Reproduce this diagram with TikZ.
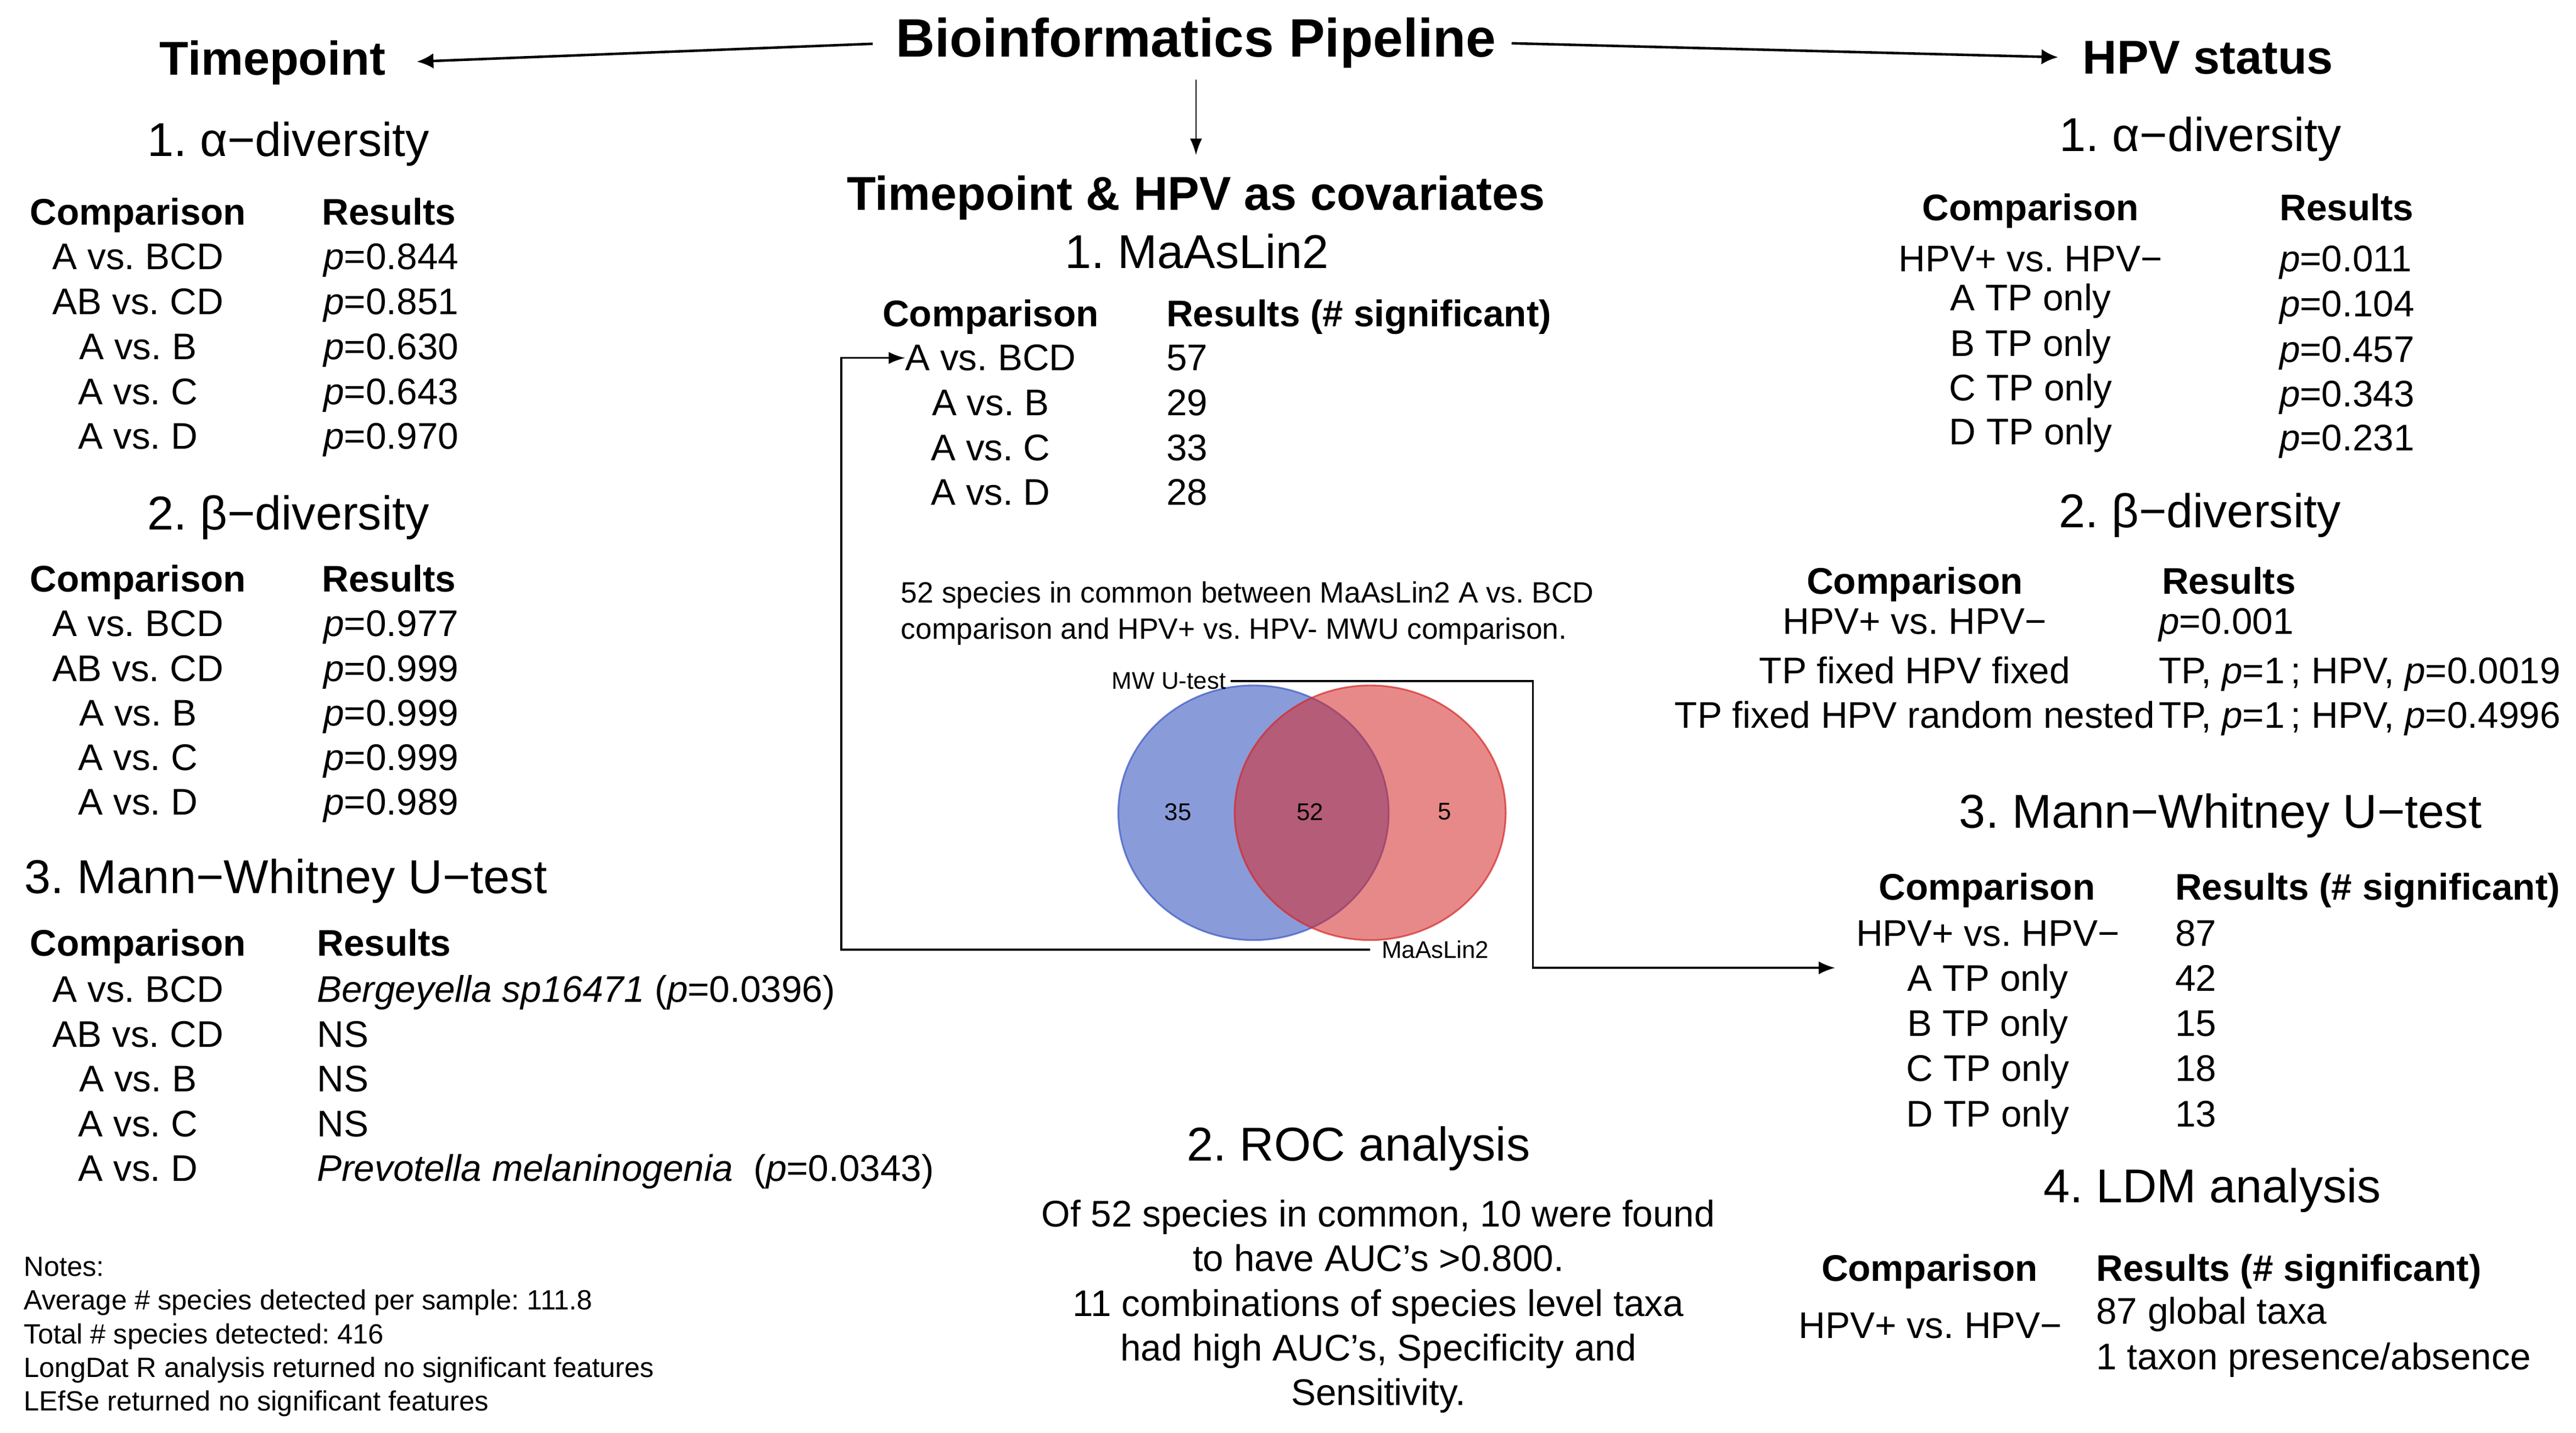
\documentclass[tikz,border=0pt]{standalone}
\usepackage{fontspec}
\setmainfont{Liberation Sans}
\frenchspacing
\usetikzlibrary{arrows.meta,positioning,calc}
\definecolor{vennblue}{RGB}{66,94,196}
\definecolor{vennred}{RGB}{214,40,40}

\begin{document}
\begin{tikzpicture}[x=0.029917cm,y=-0.029917cm,
  every node/.style={inner sep=0pt,outer sep=0pt},
  body/.style={font=\fontsize{19.2}{23}\selectfont},
  bhd/.style={font=\fontsize{19.2}{23}\selectfont\bfseries},
  sec/.style={font=\fontsize{24.6}{29}\selectfont},
  big/.style={font=\fontsize{24.6}{29}\selectfont\bfseries},
  small/.style={font=\fontsize{12.5}{15}\selectfont},
  note/.style={font=\fontsize{14.4}{17}\selectfont},
  pipe/.style={line width=1.3pt,-{Latex[length=0.3cm,width=0.28cm]}},
  link/.style={line width=1pt}]

\useasboundingbox (0,0) rectangle (1568,871.8);

% top row
\node[font=\fontsize{28}{34}\selectfont\bfseries,anchor=base] (title) at (728,34.6) {Bioinformatics Pipeline};
\node[big,anchor=base] (tp) at (166,45.7) {Timepoint};
\node[big,anchor=base] (hpv) at (1344,45) {HPV status};
\node[big,anchor=base] (cov) at (728,128) {Timepoint \& HPV as covariates};
\draw[pipe,shorten <=0.42cm,shorten >=0.57cm] (title.west) -- (tp.east);
\draw[pipe,shorten <=0.28cm,shorten >=0.45cm] (title.east) -- (hpv.west);
\draw[line width=0.8pt,-{Latex[length=0.3cm,width=0.22cm]},shorten <=0.21cm,shorten >=0.38cm] (title.south) -- (cov.north);

% Timepoint
\node[sec,anchor=base] (la) at (175.5,95) {1. α−diversity};
\node[bhd,anchor=base] (lac) at (84,137) {Comparison};
\node[bhd,anchor=base west] (lar) at (196,137) {Results};
\foreach \c/\p [count=\i] in {A vs. BCD/0.844,AB vs. CD/0.851,A vs. B/0.630,A vs. C/0.643,A vs. D/0.970}{
  \node[body,anchor=base] (la\i) at (84,{164+27.35*(\i-1)}) {\c};
  \node[body,anchor=base west] (lap\i) at (197,{164+27.35*(\i-1)}) {\textit{p}=\p};
}

\node[sec,anchor=base] (lb) at (175.5,322.5) {2. β−diversity};
\node[bhd,anchor=base] (lbc) at (84,360) {Comparison};
\node[bhd,anchor=base west] (lbr) at (196,360) {Results};
\foreach \c/\p [count=\i] in {A vs. BCD/0.977,AB vs. CD/0.999,A vs. B/0.999,A vs. C/0.999,A vs. D/0.989}{
  \node[body,anchor=base] (lb\i) at (84,{387.3+27.17*(\i-1)}) {\c};
  \node[body,anchor=base west] (lbp\i) at (197,{387.3+27.17*(\i-1)}) {\textit{p}=\p};
}

\node[sec,anchor=base west] (lm) at (15,543.5) {3. Mann−Whitney U−test};
\node[bhd,anchor=base] (lmc) at (84,581.7) {Comparison};
\node[bhd,anchor=base west] (lmr) at (193,581.7) {Results};
\foreach \c/\p [count=\i] in {{A vs. BCD}/{\textit{Bergeyella sp16471} (\textit{p}=0.0396)},{AB vs. CD}/NS,{A vs. B}/NS,{A vs. C}/NS,{A vs. D}/{\textit{Prevotella melaninogenia}\ \ (\textit{p}=0.0343)}}{
  \node[body,anchor=base] (lm\i) at (84,{610+27.2*(\i-1)}) {\c};
  \node[body,anchor=base west] (lmp\i) at (193,{610+27.2*(\i-1)}) {\p};
}

\foreach \t [count=\i] in {Notes:,Average \# species detected per sample: 111.8,Total \# species detected: 416,LongDat R analysis returned no significant features,LEfSe returned no significant features}
  \node[note,anchor=base west] (note\i) at (14.6,{776.6+20.5*(\i-1)}) {\t};

% covariates
\node[sec,anchor=base] (mh) at (728.5,163.4) {1. MaAsLin2};
\node[bhd,anchor=base] (mc) at (603,198.7) {Comparison};
\node[bhd,anchor=base west] (mr) at (710,198.7) {Results (\# significant)};
\foreach \c/\n [count=\i] in {A vs. BCD/57,A vs. B/29,A vs. C/33,A vs. D/28}{
  \node[body,anchor=base] (m\i) at (603,{225.6+27.3*(\i-1)}) {\c};
  \node[body,anchor=base west] (mn\i) at (710,{225.6+27.3*(\i-1)}) {\n};
}

\node[font=\fontsize{15.2}{18.5}\selectfont,anchor=base west] (cap1) at (548.5,367) {52 species in common between MaAsLin2 A vs. BCD};
\node[font=\fontsize{15.2}{18.5}\selectfont,anchor=base west] (cap2) at (548.5,388.8) {comparison and HPV+ vs. HPV- MWU comparison.};

\draw[vennblue,line width=0.9pt,fill=vennblue,fill opacity=0.62,draw opacity=0.75] (763,494.6) ellipse [x radius=82.3,y radius=77.5];
\draw[vennred,line width=0.9pt,fill=vennred,fill opacity=0.55,draw opacity=0.7] (834,494.6) ellipse [x radius=82.5,y radius=77.5];
\node[small] (v35) at (717,494) {35};
\node[small] (v52) at (797.5,494) {52};
\node[small] (v5) at (879.4,494) {5};

\node[small,inner xsep=0.09cm] (mwu) at (711.5,414.5) {MW U-test};
\node[small,inner xsep=0.21cm,anchor=west] (maas) at (834,578) {MaAsLin2};
\coordinate (turnL) at (512,400);
\coordinate (turnR) at (933,500);
\coordinate (mwin) at (1117,589);
\draw[link,-{Latex[length=0.3cm,width=0.22cm]}] (maas.west) -| (turnL) |- (m1.west);
\draw[link,-{Latex[length=0.3cm,width=0.24cm]}] (mwu.east) -| (turnR) |- (mwin);

\node[sec,anchor=base] (roc) at (827,706.5) {2. ROC analysis};
\foreach \t [count=\i] in {{Of 52 species in common, 10 were found},{to have AUC’s >0.800.},{11 combinations of species level taxa},{had high AUC’s, Specificity and},{Sensitivity.}}
  \node[body,anchor=base] (roc\i) at (839,{746.5+27.2*(\i-1)}) {\t};

% HPV status
\node[sec,anchor=base] (ra) at (1339.5,92) {1. α−diversity};
\node[bhd,anchor=base] (rac) at (1236,134.3) {Comparison};
\node[bhd,anchor=base west] (rar) at (1387.7,134.3) {Results};
\foreach \c/\cy/\p/\py [count=\i] in {HPV+ vs. HPV−/165.4/0.011/165.4,A TP only/189/0.104/192.8,B TP only/216.8/0.457/220.3,C TP only/243.7/0.343/247.5,D TP only/270.5/0.231/274.4}{
  \node[body,anchor=base] (ra\i) at (1236,\cy) {\c};
  \node[body,anchor=base west] (rap\i) at (1387.5,\py) {\textit{p}=\p};
}

\node[sec,anchor=base] (rb) at (1339,321) {2. β−diversity};
\node[bhd,anchor=base] (rbc) at (1165.5,361.5) {Comparison};
\node[bhd,anchor=base west] (rbr) at (1316,361.5) {Results};
\foreach \c/\y/\p [count=\i] in {{HPV+ vs. HPV−}/386/{\textit{p}=0.001},{TP fixed HPV fixed}/416/{TP, \textit{p}=1\,; HPV, \textit{p}=0.0019},{TP fixed HPV random nested}/443/{TP, \textit{p}=1\,; HPV, \textit{p}=0.4996}}{
  \node[body,anchor=base] (rb\i) at (1165.5,\y) {\c};
  \node[body,anchor=base west] (rbp\i) at (1314,\y) {\p};
}

\node[sec,anchor=base] (rm) at (1351.6,504) {3. Mann−Whitney U−test};
\node[bhd,anchor=base] (rmc) at (1209.5,547.8) {Comparison};
\node[bhd,anchor=base west] (rmr) at (1324,547.8) {Results (\# significant)};
\foreach \c/\n [count=\i] in {HPV+ vs. HPV−/87,A TP only/42,B TP only/15,C TP only/18,D TP only/13}{
  \node[body,anchor=base] (rm\i) at (1210,{575.6+27.5*(\i-1)}) {\c};
  \node[body,anchor=base west] (rmn\i) at (1324,{575.6+27.5*(\i-1)}) {\n};
}

\node[sec,anchor=base] (rl) at (1346.6,732) {4. LDM analysis};
\node[bhd,anchor=base] (rlc) at (1174.5,779.5) {Comparison};
\node[bhd,anchor=base west] (rlr) at (1276,779.5) {Results (\# significant)};
\node[body,anchor=base] (rl1) at (1175,814.3) {HPV+ vs. HPV−};
\node[body,anchor=base west] (rlv1) at (1276,805.8) {87 global taxa};
\node[body,anchor=base west] (rlv2) at (1276,833.6) {1 taxon presence/absence};
\end{tikzpicture}
\end{document}
